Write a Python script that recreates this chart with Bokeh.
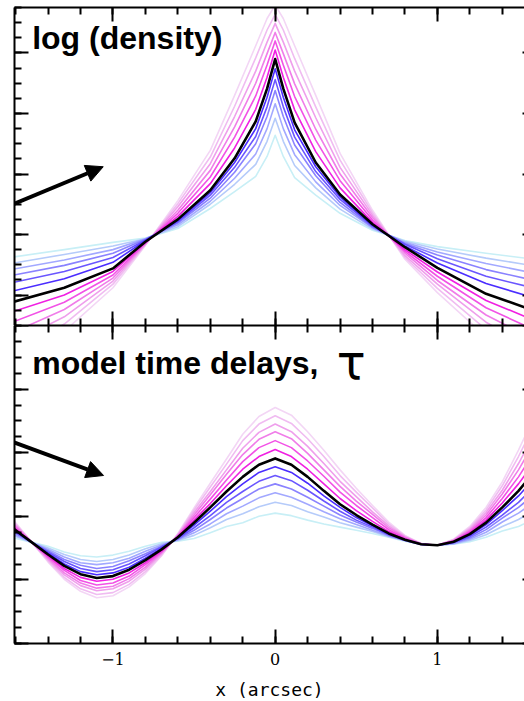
from bokeh.embed import file_html
from bokeh.layouts import column
from bokeh.models import Arrow, FixedTicker, Label, LinearAxis, NormalHead, Range1d
from bokeh.plotting import figure
from bokeh.resources import INLINE

# ---------------------------------------------------------------- data
# x positions (arcsec) of the density profiles
x_density = [-1.61, -1.3, -1.0, -0.8, -0.6, -0.4, -0.25, -0.12, -0.05, 0.0,
             0.05, 0.12, 0.25, 0.4, 0.6, 0.8, 1.0, 1.3, 1.6]

# reference model, log density
density_black = [-0.11, 0.12, 0.44, 0.88, 1.25, 1.73, 2.26, 2.87, 3.41, 3.90,
                 3.41, 2.85, 2.19, 1.66, 1.17, 0.79, 0.45, 0.02, -0.26]

# shallower models (blue side), from closest to the reference outwards
density_blue = [
    [0.07, 0.27, 0.54, 0.90, 1.23, 1.69, 2.19, 2.75, 3.27, 3.74, 3.27, 2.73, 2.12, 1.62, 1.15, 0.81, 0.53, 0.19, -0.05],
    [0.21, 0.39, 0.62, 0.91, 1.21, 1.65, 2.11, 2.62, 3.11, 3.56, 3.11, 2.61, 2.04, 1.58, 1.14, 0.84, 0.60, 0.31, 0.11],
    [0.33, 0.49, 0.69, 0.92, 1.19, 1.60, 2.03, 2.50, 2.95, 3.38, 2.95, 2.48, 1.97, 1.53, 1.12, 0.85, 0.66, 0.42, 0.24],
    [0.43, 0.58, 0.75, 0.93, 1.16, 1.55, 1.93, 2.33, 2.75, 3.16, 2.75, 2.32, 1.87, 1.48, 1.11, 0.87, 0.71, 0.52, 0.36],
    [0.53, 0.67, 0.81, 0.93, 1.13, 1.50, 1.83, 2.16, 2.54, 2.92, 2.54, 2.14, 1.77, 1.42, 1.09, 0.89, 0.76, 0.61, 0.48],
    [0.63, 0.75, 0.87, 0.94, 1.10, 1.43, 1.71, 1.96, 2.29, 2.64, 2.29, 1.94, 1.65, 1.35, 1.07, 0.90, 0.80, 0.69, 0.59],
]

# steeper models (pink side), from closest to the reference outwards
density_pink = [
    [-0.27, 0.00, 0.39, 0.87, 1.30, 1.84, 2.43, 3.07, 3.60, 4.05, 3.60, 3.06, 2.37, 1.77, 1.20, 0.75, 0.38, -0.09, -0.42],
    [-0.44, -0.12, 0.33, 0.86, 1.35, 1.95, 2.61, 3.29, 3.80, 4.20, 3.80, 3.28, 2.56, 1.89, 1.24, 0.72, 0.31, -0.21, -0.58],
    [-0.61, -0.24, 0.28, 0.85, 1.40, 2.06, 2.78, 3.50, 3.99, 4.34, 3.99, 3.49, 2.74, 2.00, 1.28, 0.69, 0.24, -0.33, -0.74],
    [-0.78, -0.36, 0.23, 0.84, 1.46, 2.17, 2.95, 3.70, 4.18, 4.49, 4.18, 3.70, 2.93, 2.11, 1.32, 0.65, 0.18, -0.45, -0.90],
    [-0.95, -0.48, 0.18, 0.83, 1.51, 2.28, 3.12, 3.92, 4.38, 4.64, 4.38, 3.91, 3.11, 2.23, 1.36, 0.62, 0.11, -0.57, -1.07],
    [-1.11, -0.60, 0.12, 0.82, 1.56, 2.39, 3.30, 4.12, 4.57, 4.79, 4.57, 4.12, 3.30, 2.34, 1.40, 0.59, 0.04, -0.69, -1.23],
]

# x positions (arcsec) of the time-delay curves
x_delay = [-1.61, -1.5, -1.4, -1.3, -1.2, -1.1, -1.0, -0.9, -0.8, -0.7, -0.6,
           -0.5, -0.4, -0.3, -0.2, -0.1, 0.0, 0.1, 0.2, 0.3, 0.4, 0.5, 0.6,
           0.7, 0.8, 0.9, 1.0, 1.1, 1.2, 1.3, 1.4, 1.5, 1.6]

delay_black = [1.80, 1.59, 1.40, 1.22, 1.09, 1.03, 1.06, 1.16, 1.31, 1.48, 1.67,
               1.90, 2.14, 2.39, 2.62, 2.81, 2.91, 2.81, 2.62, 2.40, 2.19, 2.02,
               1.87, 1.73, 1.63, 1.56, 1.545, 1.60, 1.72, 1.90, 2.14, 2.40, 2.71]

delay_blue = [
    [1.78, 1.59, 1.42, 1.25, 1.13, 1.08, 1.11, 1.20, 1.34, 1.50, 1.66, 1.86, 2.08, 2.31, 2.51, 2.69, 2.78,
     2.69, 2.52, 2.32, 2.14, 1.98, 1.85, 1.72, 1.63, 1.56, 1.545, 1.59, 1.70, 1.87, 2.09, 2.32, 2.60],
    [1.76, 1.59, 1.44, 1.29, 1.18, 1.13, 1.16, 1.25, 1.38, 1.52, 1.65, 1.82, 2.01, 2.22, 2.39, 2.55, 2.64,
     2.56, 2.41, 2.24, 2.08, 1.94, 1.83, 1.71, 1.625, 1.559, 1.545, 1.59, 1.68, 1.83, 2.02, 2.22, 2.47],
    [1.74, 1.59, 1.46, 1.32, 1.23, 1.18, 1.21, 1.30, 1.41, 1.53, 1.64, 1.78, 1.95, 2.13, 2.28, 2.43, 2.51,
     2.43, 2.30, 2.16, 2.02, 1.91, 1.81, 1.70, 1.62, 1.559, 1.545, 1.58, 1.66, 1.79, 1.97, 2.14, 2.35],
    [1.71, 1.59, 1.48, 1.36, 1.27, 1.24, 1.27, 1.34, 1.45, 1.55, 1.63, 1.74, 1.88, 2.04, 2.16, 2.29, 2.37,
     2.30, 2.19, 2.07, 1.96, 1.87, 1.78, 1.69, 1.62, 1.558, 1.545, 1.57, 1.64, 1.75, 1.91, 2.05, 2.23],
    [1.69, 1.59, 1.50, 1.40, 1.32, 1.29, 1.32, 1.39, 1.49, 1.57, 1.62, 1.70, 1.82, 1.95, 2.04, 2.15, 2.22,
     2.17, 2.07, 1.99, 1.90, 1.83, 1.76, 1.68, 1.62, 1.558, 1.545, 1.565, 1.62, 1.71, 1.84, 1.95, 2.10],
    [1.66, 1.59, 1.53, 1.44, 1.38, 1.36, 1.39, 1.45, 1.53, 1.59, 1.61, 1.65, 1.74, 1.84, 1.90, 2.00, 2.05,
     2.01, 1.94, 1.88, 1.83, 1.78, 1.73, 1.67, 1.61, 1.557, 1.545, 1.56, 1.60, 1.67, 1.77, 1.84, 1.96],
]

delay_pink = [
    [1.82, 1.59, 1.38, 1.18, 1.04, 0.98, 1.01, 1.11, 1.27, 1.46, 1.68, 1.94, 2.20, 2.48, 2.74, 2.94, 3.05,
     2.94, 2.74, 2.51, 2.28, 2.09, 1.92, 1.76, 1.64, 1.56, 1.545, 1.61, 1.74, 1.94, 2.21, 2.51, 2.86],
    [1.84, 1.59, 1.36, 1.15, 0.99, 0.92, 0.95, 1.06, 1.24, 1.44, 1.69, 1.98, 2.27, 2.57, 2.86, 3.08, 3.19,
     3.08, 2.87, 2.63, 2.38, 2.17, 1.98, 1.79, 1.655, 1.564, 1.545, 1.61, 1.76, 1.98, 2.28, 2.62, 3.02],
    [1.87, 1.59, 1.34, 1.11, 0.95, 0.87, 0.90, 1.02, 1.20, 1.43, 1.70, 2.02, 2.34, 2.66, 2.97, 3.21, 3.33,
     3.22, 2.99, 2.73, 2.47, 2.24, 2.03, 1.82, 1.67, 1.566, 1.545, 1.62, 1.78, 2.02, 2.35, 2.73, 3.17],
    [1.89, 1.59, 1.32, 1.08, 0.91, 0.83, 0.86, 0.98, 1.17, 1.41, 1.71, 2.06, 2.39, 2.73, 3.07, 3.32, 3.45,
     3.33, 3.10, 2.83, 2.55, 2.31, 2.07, 1.85, 1.68, 1.567, 1.545, 1.627, 1.80, 2.06, 2.41, 2.83, 3.30],
    [1.91, 1.59, 1.30, 1.04, 0.86, 0.77, 0.80, 0.93, 1.13, 1.39, 1.72, 2.10, 2.46, 2.82, 3.19, 3.45, 3.58,
     3.46, 3.22, 2.94, 2.64, 2.38, 2.13, 1.88, 1.69, 1.57, 1.545, 1.63, 1.82, 2.10, 2.48, 2.94, 3.45],
    [1.93, 1.59, 1.28, 1.01, 0.82, 0.72, 0.75, 0.89, 1.10, 1.38, 1.73, 2.13, 2.52, 2.90, 3.29, 3.57, 3.71,
     3.59, 3.33, 3.04, 2.73, 2.44, 2.17, 1.91, 1.70, 1.572, 1.545, 1.64, 1.84, 2.14, 2.54, 3.04, 3.59],
]

blue_colors = ["#4b2dff", "#6a56ff", "#8a82ff", "#a2a8ff", "#b5cbfa", "#c8eff6"]
pink_colors = ["#f020e2", "#f252e6", "#f07de9", "#ef9fec", "#f0bcf1", "#f3d6f5"]

# ticks
x_major_ticks = [-1, 0, 1]
x_minor_ticks = [-1.6, -1.4, -1.2, -1.0, -0.8, -0.6, -0.4, -0.2, 0.0,
                 0.2, 0.4, 0.6, 0.8, 1.0, 1.2, 1.4, 1.6]
x_tick_labels = {-1: "\u22121", 0: "0", 1: "1"}

density_major_ticks = [0, 1, 2, 3, 4]
density_minor_ticks = [-0.5, -0.25, 0, 0.25, 0.5, 0.75, 1, 1.25, 1.5, 1.75, 2, 2.25,
                       2.5, 2.75, 3, 3.25, 3.5, 3.75, 4, 4.25, 4.5, 4.75]
delay_major_ticks = [0, 1, 2, 3, 4, 5]
delay_minor_ticks = [0, 0.25, 0.5, 0.75, 1, 1.25, 1.5, 1.75, 2, 2.25, 2.5, 2.75,
                     3, 3.25, 3.5, 3.75, 4, 4.25, 4.5, 4.75, 5]

X_RANGE = (-1.607, 1.537)


# ---------------------------------------------------------------- helpers
def frame_axis(ticker, major_in=14, minor_in=7, line=True):
    """A frame side with inward ticks and no tick labels."""
    ax = LinearAxis(ticker=ticker)
    ax.axis_line_color = "black" if line else None
    ax.axis_line_width = 2
    ax.major_tick_in = major_in
    ax.major_tick_out = 0
    ax.minor_tick_in = minor_in
    ax.minor_tick_out = 0
    ax.major_tick_line_width = 2
    ax.minor_tick_line_width = 2
    ax.major_tick_line_color = "black"
    ax.minor_tick_line_color = "black" if minor_in else None
    ax.major_label_text_color = None
    ax.major_label_standoff = 0
    return ax


def panel(y_range, y_major, y_minor, border_top, border_bottom):
    p = figure(frame_width=510, frame_height=318,
               x_range=Range1d(*X_RANGE), y_range=Range1d(*y_range),
               x_axis_location=None, y_axis_location=None,
               toolbar_location=None, output_backend="svg",
               min_border_left=14, min_border_right=0,
               min_border_top=border_top, min_border_bottom=border_bottom,
               background_fill_color="white", border_fill_color="white",
               outline_line_color=None)
    p.grid.visible = False
    xt = FixedTicker(ticks=x_major_ticks, minor_ticks=x_minor_ticks)
    yt = FixedTicker(ticks=y_major, minor_ticks=y_minor)
    p.add_layout(frame_axis(yt), "left")
    p.add_layout(frame_axis(yt, major_in=2, minor_in=0, line=False), "right")
    p.add_layout(frame_axis(xt), "above")
    return p, xt


def draw_family(p, xs, black, blues, pinks):
    for i in range(len(blues) - 1, -1, -1):
        p.line(xs, pinks[i], line_color=pink_colors[i], line_width=1.6, line_join="round")
        p.line(xs, blues[i], line_color=blue_colors[i], line_width=1.6, line_join="round")
    p.line(xs, black, line_color="black", line_width=2.6, line_join="round")


def pointer(p, x0, y0, x1, y1):
    p.add_layout(Arrow(end=NormalHead(size=17, fill_color="black", line_color="black"),
                       x_start=x0, y_start=y0, x_end=x1, y_end=y1,
                       line_color="black", line_width=4))


# ---------------------------------------------------------------- density panel
top, xt_top = panel((-0.504, 4.752), density_major_ticks, density_minor_ticks, 7, 0)
top.add_layout(frame_axis(xt_top), "below")
draw_family(top, x_density, density_black, density_blue, density_pink)
top.add_layout(Label(x=-1.498, y=4.25, text="log (density)",
                     text_font="Liberation Sans", text_font_style="bold",
                     text_font_size="32px", text_baseline="alphabetic",
                     text_color="black"))
pointer(top, -1.696, 1.41, -1.06, 2.12)

# ---------------------------------------------------------------- time-delay panel
bottom, xt_bot = panel((0, 5), delay_major_ticks, delay_minor_ticks, 0, 58)
xaxis = frame_axis(xt_bot)
xaxis.major_label_text_font_size = "16px"
xaxis.major_label_text_font = "DejaVu Serif"
xaxis.major_label_text_color = "black"
xaxis.major_label_standoff = 9
xaxis.major_label_overrides = x_tick_labels
xaxis.axis_label = "x (arcsec)"
xaxis.axis_label_text_font = "DejaVu Sans Mono"
xaxis.axis_label_text_font_style = "normal"
xaxis.axis_label_text_font_size = "18px"
xaxis.axis_label_text_color = "black"
xaxis.axis_label_standoff = 11
bottom.add_layout(xaxis, "below")
draw_family(bottom, x_delay, delay_black, delay_blue, delay_pink)
bottom.add_layout(Label(x=-1.498, y=4.405, text="model time delays,",
                        text_font="Liberation Sans", text_font_style="bold",
                        text_font_size="32px", text_baseline="alphabetic",
                        text_color="black"))
bottom.add_layout(Label(x=0.38, y=4.43, text="\u03c4",
                        text_font="DejaVu Sans", text_font_size="48px",
                        text_baseline="alphabetic", text_color="black"))
pointer(bottom, -1.696, 3.244, -1.058, 2.642)

layout = column(top, bottom)
open("out.html", "w").write(file_html(layout, INLINE))
